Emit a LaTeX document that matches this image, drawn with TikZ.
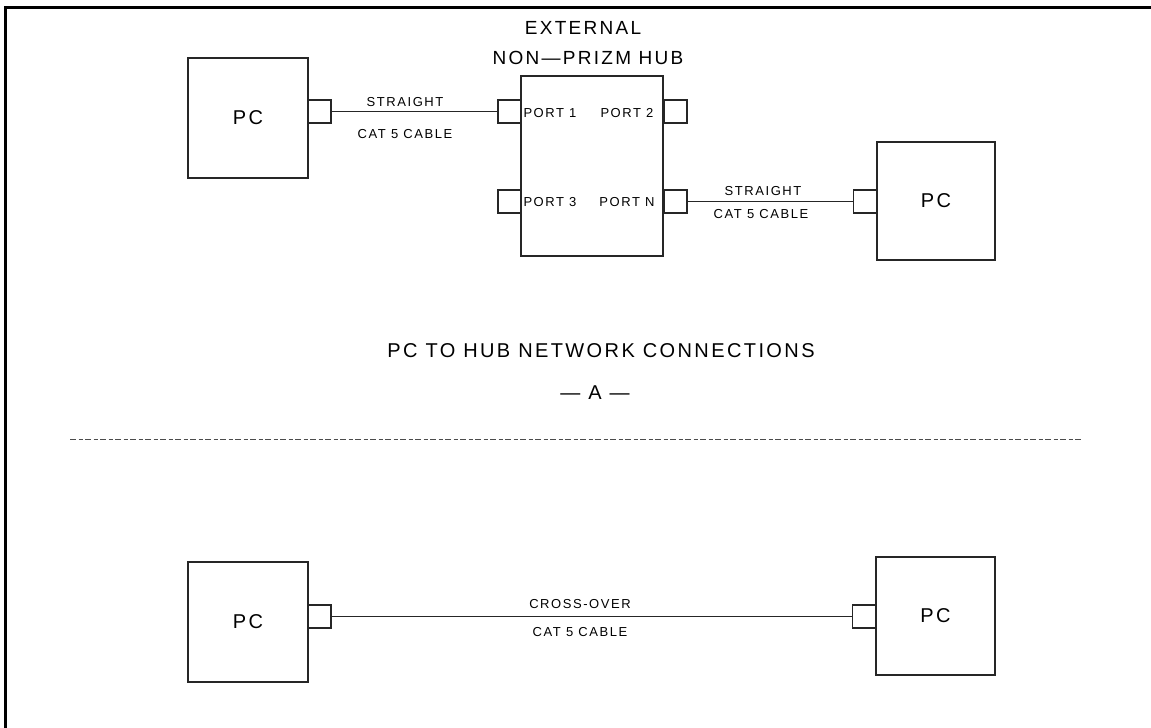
\documentclass[tikz,border=0pt]{standalone}
\usepackage{fontspec}
\newfontfamily\cad[LetterSpace=12]{Liberation Sans}
\begin{document}
\begin{tikzpicture}[x=1pt,y=-1pt,
  line/.style={draw=black!85,line width=1.1pt},
  pcbox/.style={line,minimum width=120pt,minimum height=120pt,inner sep=0pt,font=\cad\fontsize{20}{20}\selectfont},
  portbox/.style={line,minimum width=23pt,minimum height=23pt,inner sep=0pt},
  hubbox/.style={line,minimum width=142pt,minimum height=180pt,inner sep=0pt},
  small/.style={inner sep=0pt,font=\cad\fontsize{13}{13}\selectfont},
  big/.style={inner sep=0pt,font=\cad\fontsize{19}{19}\selectfont},
  title/.style={inner sep=0pt,font=\cad\fontsize{20}{20}\selectfont}]
\useasboundingbox (0,0) rectangle (1151,728);
% frame
\draw[line width=3pt,black] (5.5,728) -- (5.5,7.5) -- (1151,7.5);
% top-left PC
\node[pcbox] (pc1) at (248,118) {PC};
\node[portbox] (c1) at (319.5,111.5) {};
% hub
\node[hubbox] (hub) at (592,166) {};
\node[portbox] (p1) at (509.5,111.5) {};
\node[portbox] (p2) at (675.5,111.5) {};
\node[portbox] (p3) at (509.5,201.5) {};
\node[portbox] (pN) at (675.5,201.5) {};
\node[small] (l1) at (550,113) {PORT 1};
\node[small] (l2) at (627,113) {PORT 2};
\node[small] (l3) at (550,202) {PORT 3};
\node[small] (lN) at (627,202) {PORT N};
\node[big] (ext) at (583,28) {EXTERNAL};
\node[big] (non) at (588,58) {NON\textemdash PRIZM HUB};
% right PC
\node[pcbox,minimum width=118pt,minimum height=118pt] (pc2) at (936,201) {PC};
\node[portbox] (c2) at (865,201.5) {};
% cables
\draw[line] (c1.east) -- (p1.west);
\draw[line] (pN.east) -- (c2.west);
\node[small] (s1) at (405,102) {STRAIGHT};
\node[small] (k1) at (405,134) {CAT 5 CABLE};
\node[small] (s2) at (763,191) {STRAIGHT};
\node[small] (k2) at (761,214) {CAT 5 CABLE};
% title
\node[title] (t) at (601,351) {PC TO HUB NETWORK CONNECTIONS};
\node[title] (a) at (595,393) {\textemdash\ A \textemdash};
% divider
\coordinate (dl) at (70,439);
\coordinate (dr) at (1081,439);
\draw[draw=black!70,line width=1pt,dash pattern=on 6pt off 2.5pt on 4pt off 2.5pt] (dl) -- (dr);
% bottom
\node[pcbox] (pc3) at (248,622) {PC};
\node[portbox] (c3) at (319.5,616.5) {};
\node[pcbox,minimum width=119pt,minimum height=118pt] (pc4) at (935.5,616) {PC};
\node[portbox] (c4) at (864,616.5) {};
\draw[line] (c3.east) -- (c4.west);
\node[small] (s3) at (580,604) {CROSS-OVER};
\node[small] (k3) at (580,632) {CAT 5 CABLE};
\end{tikzpicture}
\end{document}
